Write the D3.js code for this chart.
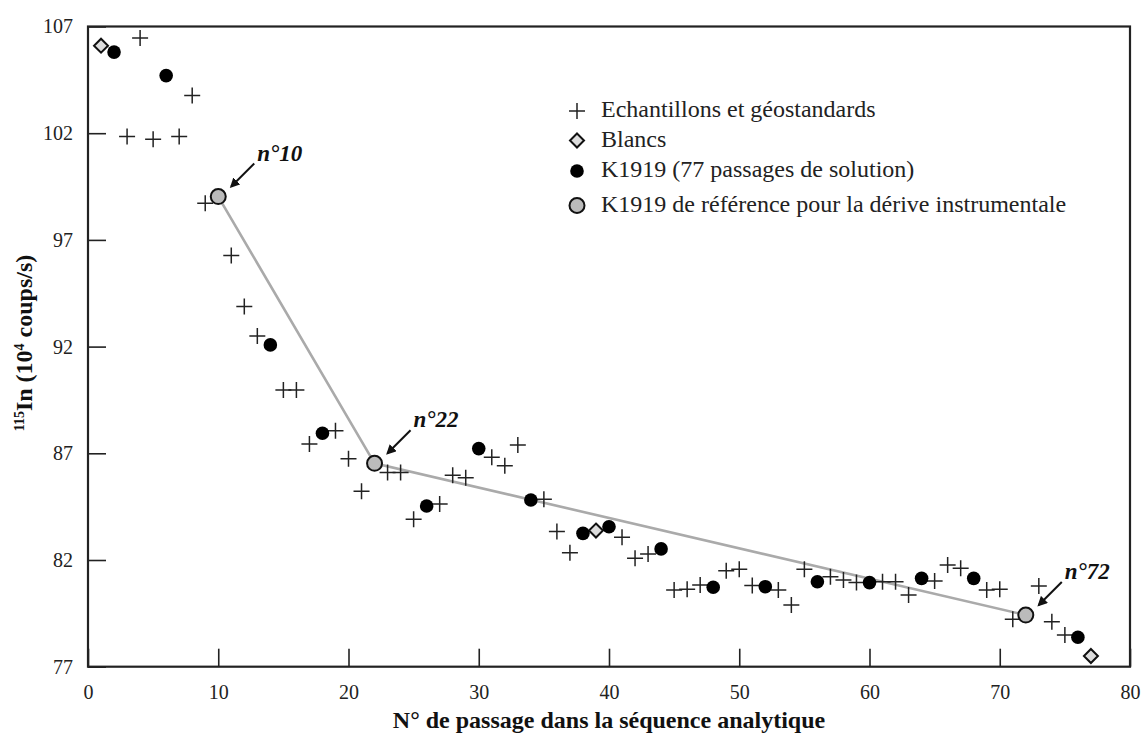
<!DOCTYPE html>
<html><head><meta charset="utf-8">
<script src="https://cdn.jsdelivr.net/npm/d3@7"></script>
<style>body{margin:0;background:#fff;} svg{display:block;}</style>
</head><body>
<svg id="chart" width="1142" height="735"></svg>
<script>
// Data: passage number (1..77) and 115In intensity (10^4 counts/s)
const passages = d3.range(1, 78);
const values = [106.1,105.8,101.85,106.46,101.72,104.7,101.85,103.77,98.72,99.03,
96.27,93.88,92.5,92.08,89.97,89.97,87.44,87.94,88.06,86.75,
85.22,86.53,86.1,86.1,83.91,84.53,84.63,85.97,85.85,87.22,
86.82,86.42,87.39,84.81,84.85,83.33,82.34,83.25,83.38,83.56,
83.07,82.08,82.28,82.52,80.6,80.63,80.83,80.72,81.5,81.57,
80.8,80.75,80.6,79.89,81.57,80.98,81.22,81.06,80.94,80.94,
80.98,80.98,80.36,81.14,81.02,81.77,81.61,81.14,80.6,80.63,
79.22,79.42,80.78,79.11,78.49,78.38,77.5];
// type per passage: E = échantillon, B = blanc, K = K1919, R = K1919 référence
const types = ["B","K","E","E","E","K","E","E","E","R",
"E","E","E","K","E","E","E","K","E","E",
"E","R","E","E","E","K","E","E","E","K",
"E","E","E","K","E","E","E","K","B","K",
"E","E","E","K","E","E","E","K","E","E",
"E","K","E","E","E","K","E","E","E","K",
"E","E","E","K","E","E","E","K","E","E",
"E","R","E","E","E","K","B"];
const xTicks = [0,10,20,30,40,50,60,70,80];
const yTicks = [77,82,87,92,97,102,107];
const legendLabels = ["Echantillons et géostandards","Blancs","K1919 (77 passages de solution)","K1919 de référence pour la dérive instrumentale"];
const legendTypes = ["E","B","K","R"];
const refLabels = ["n°10","n°22","n°72"];

const SERIF = '"Liberation Serif", "Times New Roman", serif';
const points = passages.map((p,i)=>({x:p, y:values[i], t:types[i]}));
const refs = points.filter(d=>d.t==="R");

const svg = d3.select("#chart");
const x = d3.scaleLinear().domain([0,80]).range([88,1130]);
const y = d3.scaleLinear().domain([77,107]).range([666.7,26.5]);

// axes (ticks inward)
const gx = svg.append("g").attr("transform",`translate(0,${y(77)})`)
  .call(d3.axisBottom(x).tickValues(xTicks).tickSizeInner(-18).tickSizeOuter(0).tickPadding(26).tickFormat(d3.format("d")));
const gy = svg.append("g").attr("transform",`translate(${x(0)},0)`)
  .call(d3.axisLeft(y).tickValues(yTicks).tickSizeInner(-18).tickSizeOuter(0).tickPadding(15).tickFormat(d3.format("d")));
[gx,gy].forEach(g=>{
  g.select(".domain").remove();
  g.selectAll(".tick line").attr("stroke","#222").attr("stroke-width",1.6);
  g.selectAll(".tick text").style("font-family",SERIF).style("font-size","20px").attr("fill","#222");
});
gx.selectAll(".tick text").attr("dy","0.3em");
gy.selectAll(".tick text").attr("dy","0.32em");

// frame
svg.append("rect").attr("x",x(0)).attr("y",y(107)).attr("width",x(80)-x(0)).attr("height",y(77)-y(107))
  .attr("fill","none").attr("stroke","#222").attr("stroke-width",2.2);

// drift line
svg.append("path").datum(refs).attr("fill","none").attr("stroke","#aaa").attr("stroke-width",2.6)
  .attr("d",d3.line().x(d=>x(d.x)).y(d=>y(d.y)));

function drawMarker(g, t, cx, cy){
  if(t==="E"){
    g.append("path").attr("d",`M${cx-8},${cy}H${cx+8}M${cx},${cy-8}V${cy+8}`).attr("stroke","#222").attr("stroke-width",1.5).attr("fill","none");
  } else if(t==="B"){
    const s = 7;
    g.append("path").attr("d",`M${cx},${cy-s}L${cx+s},${cy}L${cx},${cy+s}L${cx-s},${cy}Z`)
      .attr("fill","#ddd").attr("stroke","#111").attr("stroke-width",2);
  } else if(t==="K"){
    g.append("circle").attr("cx",cx).attr("cy",cy).attr("r",6.8).attr("fill","#000");
  } else {
    g.append("circle").attr("cx",cx).attr("cy",cy).attr("r",7.5).attr("fill","#bbb").attr("stroke","#111").attr("stroke-width",2);
  }
}
const gm = svg.append("g");
const order = {E:0,B:1,K:2,R:3};
points.slice().sort((a,b)=>order[a.t]-order[b.t]).forEach(d=>drawMarker(gm,d.t,x(d.x),y(d.y)));

// annotations for reference passages
svg.append("defs").append("marker").attr("id","arr").attr("viewBox","0 0 10 10").attr("refX",8).attr("refY",5)
  .attr("markerWidth",5).attr("markerHeight",5).attr("orient","auto").attr("markerUnits","strokeWidth")
  .append("path").attr("d","M0,0L10,5L0,10z").attr("fill","#111");
refs.forEach((d,i)=>{
  const px = x(d.x), py = y(d.y);
  svg.append("line").attr("x1",px+36).attr("y1",py-33).attr("x2",px+13).attr("y2",py-10)
    .attr("stroke","#111").attr("stroke-width",2).attr("marker-end","url(#arr)");
  svg.append("text").attr("x",px+39).attr("y",py-36).style("font-family",SERIF).style("font-size","23px")
    .style("font-weight","bold").style("font-style","italic").attr("fill","#111").text(refLabels[i]);
});

// legend
const legY = [111,140.5,171,205.5];
legendTypes.forEach((t,i)=>{
  drawMarker(svg, t, 577, legY[i]);
  svg.append("text").attr("x",601).attr("y",legY[i]+6).style("font-family",SERIF).style("font-size","24px")
    .attr("fill","#222").text(legendLabels[i]);
});

// axis titles
svg.append("text").attr("x",609).attr("y",728).attr("text-anchor","middle").style("font-family",SERIF)
  .style("font-size","24px").style("font-weight","bold").attr("fill","#111")
  .text("N° de passage dans la séquence analytique");
const yt = svg.append("text").attr("transform","translate(32,343) rotate(-90)").attr("text-anchor","middle")
  .style("font-family",SERIF).style("font-size","24px").style("font-weight","bold").attr("fill","#111");
yt.append("tspan").style("font-size","14px").attr("dy","-8").text("115");
yt.append("tspan").attr("dy","8").text("In (10");
yt.append("tspan").style("font-size","14px").attr("dy","-8").text("4");
yt.append("tspan").attr("dy","8").text(" coups/s)");
</script>
</body></html>
